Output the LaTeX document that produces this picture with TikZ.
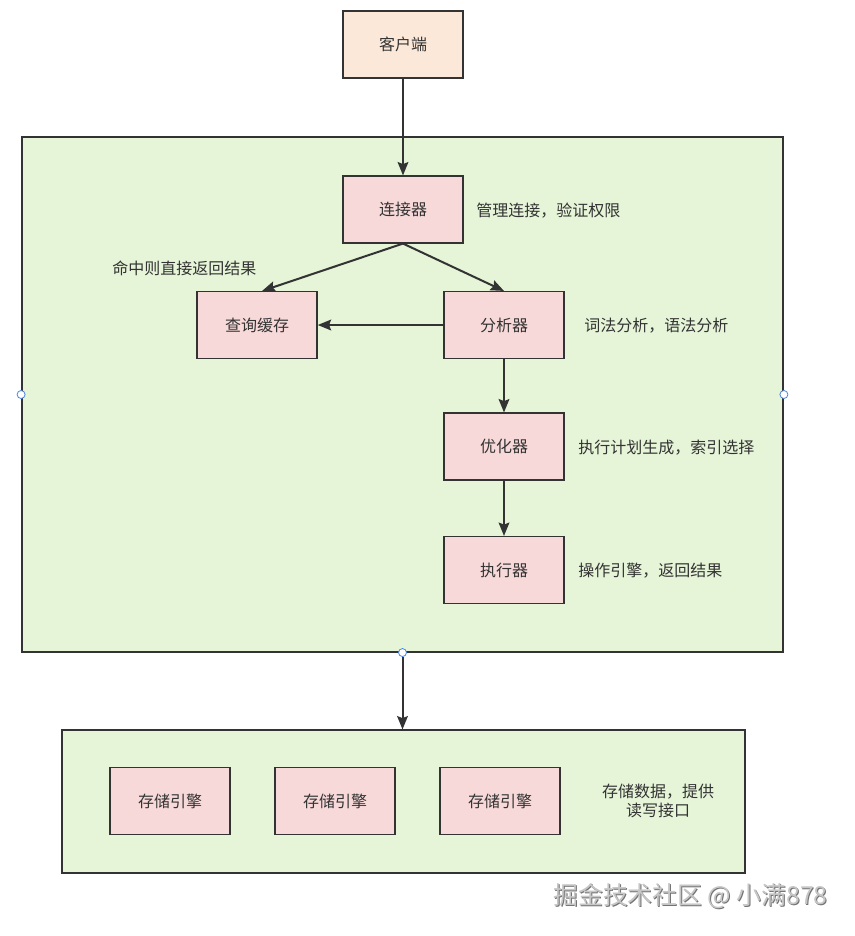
\documentclass[tikz,border=0pt]{standalone}
\usepackage{fontspec}
\setmainfont{Noto Sans CJK SC}
\usetikzlibrary{arrows.meta}
\definecolor{peach}{HTML}{FBE8D8}
\definecolor{leaf}{HTML}{E6F4D8}
\definecolor{pinkbox}{HTML}{F8D9D9}
\definecolor{edge}{HTML}{333333}
\definecolor{txt}{HTML}{333333}
\definecolor{handle}{HTML}{4A86E8}
\begin{document}
\begin{tikzpicture}[x=0.75pt,y=-0.75pt,
  box/.style={draw=edge,line width=1.1pt,fill=pinkbox,minimum width=90pt,minimum height=50pt,inner sep=0pt,font=\fontsize{12}{14}\selectfont,text=txt},
  lbl/.style={font=\fontsize{12}{14}\selectfont,text=txt,inner sep=0pt},
  arr/.style={draw=edge,line width=1.5pt,-{Stealth[length=10pt,width=8pt,inset=1.5pt]}},
  pt/.style={circle,draw=handle,fill=white,line width=0.6pt,minimum size=6pt,inner sep=0pt}]
\useasboundingbox (0,0) rectangle (854,936);
\fill[white] (0,0) rectangle (854,936);
% containers
\node[draw=edge,line width=1.1pt,fill=leaf,minimum width=571pt,minimum height=386pt,inner sep=0pt] (main) at (402.5,394.5) {};
\node[draw=edge,line width=1.1pt,fill=leaf,minimum width=512pt,minimum height=107pt,inner sep=0pt] (store) at (403.5,801.5) {};
% nodes
\node[box,fill=peach] (client) at (403,44.5) {客户端};
\node[box] (conn) at (403,209.5) {连接器};
\node[box] (cache) at (257,325) {查询缓存};
\node[box] (parser) at (504,325) {分析器};
\node[box] (opt) at (504,446.5) {优化器};
\node[box] (exec) at (504,570) {执行器};
\node[box] (s1) at (170,801) {存储引擎};
\node[box] (s2) at (335,801) {存储引擎};
\node[box] (s3) at (500,801) {存储引擎};
% labels
\node[lbl,anchor=west] (l1) at (476,211) {管理连接，验证权限};
\node[lbl,anchor=west] (l2) at (584,326) {词法分析，语法分析};
\node[lbl,anchor=west] (l3) at (112,268) {命中则直接返回结果};
\node[lbl,anchor=west] (l4) at (578,448) {执行计划生成，索引选择};
\node[lbl,anchor=west] (l5) at (578,571) {操作引擎，返回结果};
\node[lbl,align=center] (l6) at (658,801) {存储数据，提供\\读写接口};
% handles
\node[pt] (hl) at (main.west) {};
\node[pt] (hr) at (main.east) {};
\node[pt] (hb) at (main.south) {};
% arrows
\draw[arr] (client.south) -- (conn.north);
\draw[arr] (conn.south) -- (262,291);
\draw[arr] (conn.south) -- (parser.north);
\draw[arr] (parser.west) -- (cache.east);
\draw[arr] (parser.south) -- (opt.north);
\draw[arr] (opt.south) -- (exec.north);
\draw[arr] (hb.south) -- (hb.south |- store.north);
% watermark
\node[font=\fontsize{18.6}{22}\selectfont,text=gray!90!black,anchor=east,inner sep=0pt] at (829,897.5) {掘金技术社区 @ 小满878};
\node[font=\fontsize{18.6}{22}\selectfont,text=gray!45,anchor=east,inner sep=0pt] (wm) at (828,896.5) {掘金技术社区 @ 小满878};
\end{tikzpicture}
\end{document}
